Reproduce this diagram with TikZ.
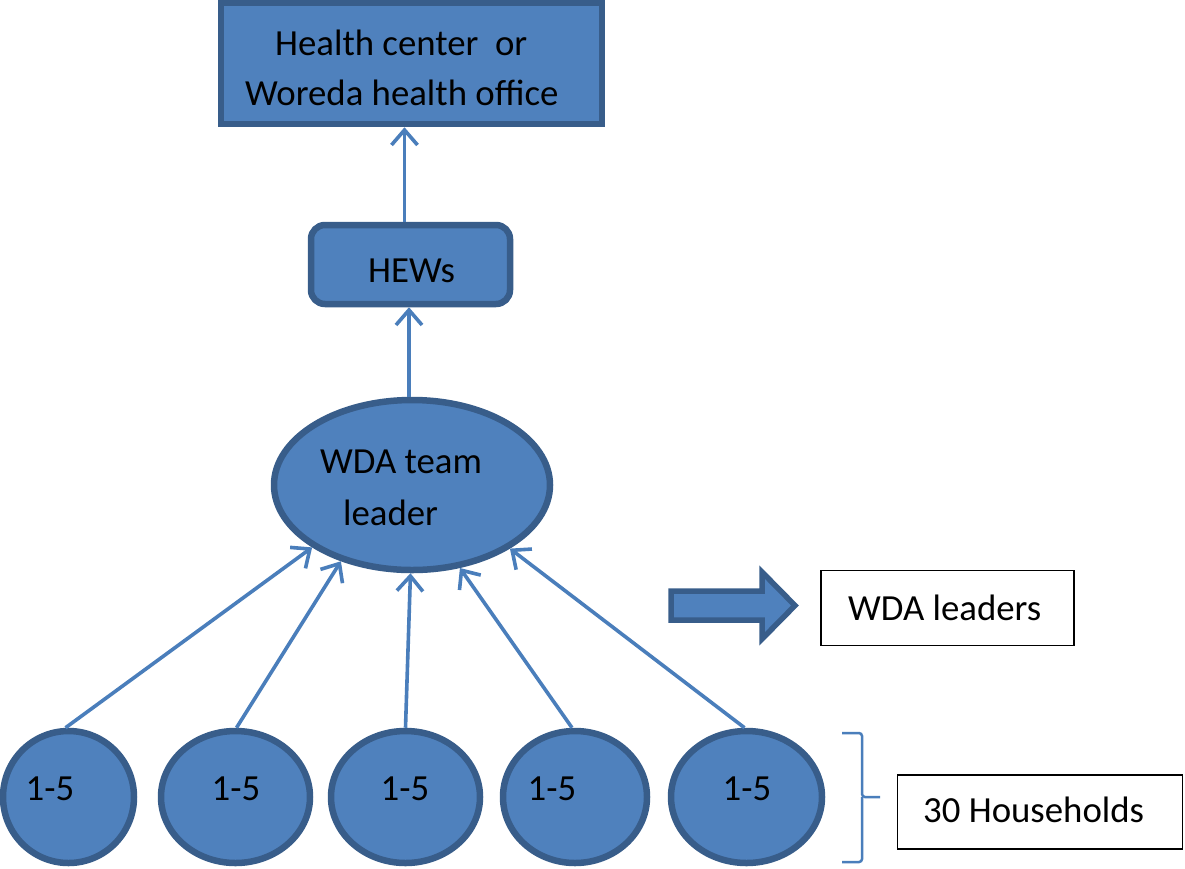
\documentclass[tikz,border=0pt]{standalone}
\usepackage{fontspec}
\setmainfont{Carlito}
\usetikzlibrary{arrows.meta,shapes.geometric}
\definecolor{boxfill}{HTML}{4F81BD}
\definecolor{boxline}{HTML}{385D8A}
\definecolor{conn}{HTML}{4A7EBB}
\begin{document}
\begin{tikzpicture}[x=1pt,y=-1pt,
  blue shape/.style={fill=boxfill,draw=boxline,line width=6.5pt,inner sep=0pt},
  hh/.style={blue shape,ellipse,minimum height=132pt},
  lbl/.style={anchor=base west,inner sep=0pt,font=\fontsize{36.8}{44}\selectfont},
  plain box/.style={draw=black,line width=1.5pt,fill=white,inner sep=0pt},
  conn line/.style={draw=conn,line width=3.6pt,-{Straight Barb[length=15pt,width=26pt,line width=3.6pt]}}]
\useasboundingbox (0,0) rectangle (1185,868);
% top box
\node[blue shape,rectangle,minimum width=381pt,minimum height=121pt] (top) at (411.5,63.5) {};
\node[lbl] (t1) at (275,55) {Health center\ \ or};
\node[lbl] (t2) at (245,105) {Woreda health office};
% HEWs
\node[blue shape,rectangle,rounded corners=14pt,minimum width=199pt,minimum height=79pt] (hews) at (410.5,264.5) {};
\node[lbl] (hl) at (368,282) {HEWs};
% WDA team leader
\node[blue shape,ellipse,minimum width=276pt,minimum height=170pt] (big) at (412,485) {};
\node[lbl] (b1) at (320,473) {WDA team};
\node[lbl] (b2) at (343,525) {leader};
% small ellipses
\node[hh,minimum width=131pt] (e1) at (68.5,797) {};
\node[hh,minimum width=149pt] (e2) at (235.5,797) {};
\node[hh,minimum width=149pt] (e3) at (405.5,797) {};
\node[hh,minimum width=144pt] (e4) at (575,797) {};
\node[hh,minimum width=151pt] (e5) at (746.5,797) {};
\node[lbl,anchor=base] (l1) at (50,800) {1-5};
\node[lbl,anchor=base] (l2) at (236,800) {1-5};
\node[lbl,anchor=base] (l3) at (405,800) {1-5};
\node[lbl,anchor=base] (l4) at (552,800) {1-5};
\node[lbl,anchor=base] (l5) at (747,800) {1-5};
% connectors
\draw[conn line] ([xshift=-6pt]hews.north) -- ([xshift=-6pt]hews.north |- top.south);
\draw[conn line] ([xshift=-3pt]big.north) -- ([xshift=-3pt]big.north |- hews.south);
\draw[conn line] ([xshift=-3pt]e1.north) -- (big.212);
\draw[conn line] ([xshift=1pt]e2.north) -- (big.227);
\draw[conn line] (e3.north) -- (big.269);
\draw[conn line] ([xshift=-3pt]e4.north) -- (big.300);
\draw[conn line] ([xshift=-2pt]e5.north) -- (big.327);
% block arrow
\draw[fill=boxfill,draw=boxline,line width=5.5pt,line join=miter]
  (671,591) -- (762,591) -- (762,572) -- (795,605.5) -- (762,639) -- (762,620) -- (671,620) -- cycle;
% WDA leaders box
\node[plain box,minimum width=253pt,minimum height=75pt] (wl) at (947.5,608) {};
\node[lbl] (wlt) at (848,620) {WDA leaders};
% brace
\coordinate (br) at (862,797);
\draw[conn,line width=2.5pt,rounded corners=3pt] (842,733) -- (862,733) -- (br) -- (880,797);
\draw[conn,line width=2.5pt,rounded corners=3pt] (842,862) -- (862,862) -- (br);
% 30 Households box
\node[plain box,minimum width=285pt,minimum height=74pt] (hb) at (1040,812) {};
\node[lbl] (hbt) at (923,822) {30 Households};
\end{tikzpicture}
\end{document}
